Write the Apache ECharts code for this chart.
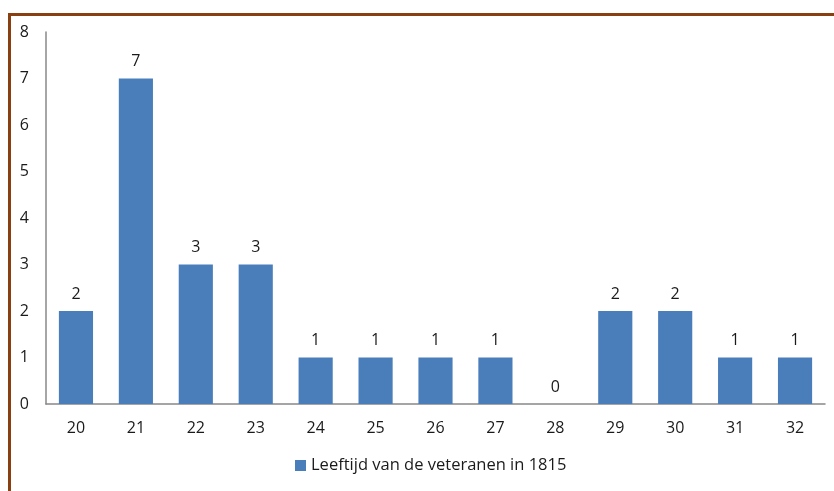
<!DOCTYPE html>
<html>
<head>
<meta charset="utf-8">
<script src="https://cdn.jsdelivr.net/npm/echarts@6/dist/echarts.min.js"></script>
<style>
    html, body { margin: 0; padding: 0; background: #fff; }
    #main { width: 834px; height: 491px; }
</style>
</head>
<body>
<div id="main"></div>
<script>
    // leeftijden (categorieen) en aantallen
    const ages = ['20', '21', '22', '23', '24', '25', '26', '27', '28', '29', '30', '31', '32'];
    const counts = [2, 7, 3, 3, 1, 1, 1, 1, 0, 2, 2, 1, 1];
    const seriesName = 'Leeftijd van de veteranen in 1815';

    const font = '"Open Sans", Lato, sans-serif';
    const chart = echarts.init(document.getElementById('main'));
    chart.setOption({
        backgroundColor: '#fff',
        animation: false,
        textStyle: { fontFamily: font },
        graphic: [
            { type: 'rect', shape: { x: 8, y: 13, width: 826, height: 3 }, style: { fill: '#8a3f10' } },
            { type: 'rect', shape: { x: 8, y: 13, width: 3, height: 478 }, style: { fill: '#8a3f10' } }
        ],
        grid: { left: 46, right: 9, top: 32, bottom: 87 },
        legend: {
            bottom: 12,
            left: 290,
            itemWidth: 11,
            itemHeight: 11,
            itemGap: 5,
            textStyle: { fontSize: 16.5, color: '#1a1a1a', fontFamily: font },
            data: [{ name: seriesName, icon: 'rect' }]
        },
        xAxis: {
            type: 'category',
            data: ages,
            axisLine: { lineStyle: { color: '#888', width: 1.5 } },
            axisTick: { show: false },
            axisLabel: { fontSize: 16, color: '#1a1a1a', margin: 16 }
        },
        yAxis: {
            type: 'value',
            min: 0,
            max: 8,
            interval: 1,
            axisLine: { show: true, lineStyle: { color: '#888', width: 1.5 } },
            axisTick: { show: false },
            splitLine: { show: false },
            axisLabel: { fontSize: 16, color: '#1a1a1a', margin: 17 }
        },
        series: [{
            name: seriesName,
            type: 'bar',
            data: counts,
            barWidth: '57%',
            itemStyle: { color: '#4a7ebb' },
            label: { show: true, position: 'top', distance: 9, fontSize: 16, color: '#1a1a1a' }
        }]
    });
</script>
</body>
</html>
